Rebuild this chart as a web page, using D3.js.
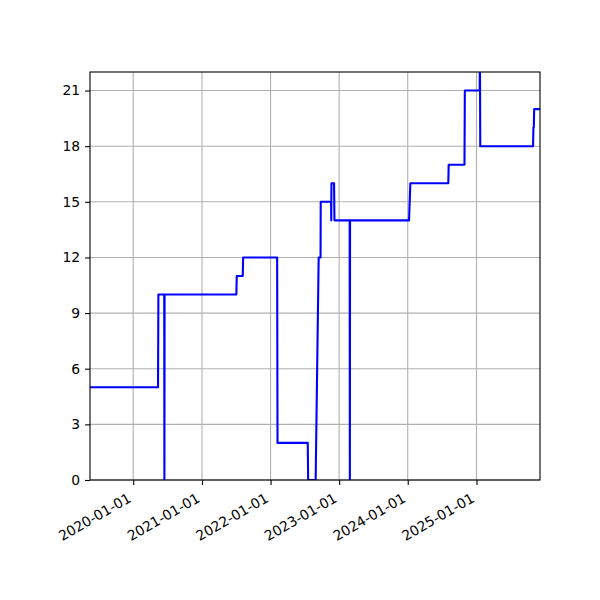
<!DOCTYPE html>
<html>
<head>
<meta charset="utf-8">
<script src="https://cdn.jsdelivr.net/npm/d3@7"></script>
<style>
  body { margin: 0; background: #fff; }
  svg { display: block; }
  text { font-family: "DejaVu Sans", sans-serif; }
</style>
</head>
<body>
<div id="chart"></div>
<script>
"use strict";

// Breakpoints of the series (date, value)
const dates = [
    "2019-05-16", "2020-05-12", "2020-05-14", "2020-06-14", "2020-06-15", "2020-06-16",
    "2021-07-03", "2021-07-05", "2021-08-06", "2021-08-08", "2022-02-05", "2022-02-07",
    "2022-07-18", "2022-07-20", "2022-08-29", "2022-09-14", "2022-09-24", "2022-09-25",
    "2022-11-19", "2022-11-20", "2022-11-21", "2022-12-05", "2022-12-07", "2023-02-26",
    "2023-02-27", "2023-02-28", "2024-01-08", "2024-01-15", "2024-08-04", "2024-08-06",
    "2024-10-29", "2024-10-31", "2025-01-18", "2025-01-19", "2025-01-21", "2025-10-29",
    "2025-10-31", "2025-11-02", "2025-11-04", "2025-12-05"
];
const values = [
    5, 5, 10, 10, 0, 10,
    10, 11, 11, 12, 12, 2,
    2, 0, 0, 12, 12, 15,
    15, 14, 16, 16, 14, 14,
    0, 14, 14, 16, 16, 17,
    17, 21, 21, 24, 18, 18,
    19, 19, 20, 20
];

const xDomain = ["2019-05-16", "2025-12-05"];
const yDomain = [0, 22];
const yTicks = [0, 3, 6, 9, 12, 15, 18, 21];
const xTicks = ["2020-01-01", "2021-01-01", "2022-01-01", "2023-01-01", "2024-01-01", "2025-01-01"];

const width = 600, height = 600;
const margin = { top: 72, right: 60, bottom: 120, left: 90 };
const fontSize = 13.9;
const tickLen = 4.9, tickPad = 4.9;

const parse = d3.utcParse("%Y-%m-%d");
const data = dates.map((d, i) => ({ date: parse(d), value: values[i] }));

const svg = d3.select("#chart").append("svg")
    .attr("width", width)
    .attr("height", height);

const xScale = d3.scaleUtc()
    .domain(xDomain.map(parse))
    .range([margin.left, width - margin.right]);

const yScale = d3.scaleLinear()
    .domain(yDomain)
    .range([height - margin.bottom, margin.top]);

// Grid lines
svg.append("g")
    .attr("stroke", "#b0b0b0")
    .attr("stroke-width", 1.1)
    .call(g => g.selectAll(".vgrid")
        .data(xTicks.map(parse))
        .join("line")
        .attr("x1", d => xScale(d)).attr("x2", d => xScale(d))
        .attr("y1", margin.top).attr("y2", height - margin.bottom))
    .call(g => g.selectAll(".hgrid")
        .data(yTicks)
        .join("line")
        .attr("x1", margin.left).attr("x2", width - margin.right)
        .attr("y1", d => yScale(d)).attr("y2", d => yScale(d)));

// Clip the line to the axes
svg.append("clipPath")
    .attr("id", "plotClip")
    .append("rect")
    .attr("x", margin.left)
    .attr("y", margin.top)
    .attr("width", width - margin.left - margin.right)
    .attr("height", height - margin.top - margin.bottom);

const line = d3.line()
    .x(d => xScale(d.date))
    .y(d => yScale(d.value));

svg.append("path")
    .datum(data)
    .attr("clip-path", "url(#plotClip)")
    .attr("fill", "none")
    .attr("stroke", "#0000ff")
    .attr("stroke-width", 2.1)
    .attr("stroke-linejoin", "round")
    .attr("d", line);

// Y axis
svg.append("g")
    .attr("transform", `translate(${margin.left},0)`)
    .call(d3.axisLeft(yScale).tickValues(yTicks).tickSize(tickLen).tickPadding(tickPad).tickSizeOuter(0))
    .call(g => g.select(".domain").remove())
    .call(g => g.selectAll(".tick line").attr("stroke", "#000").attr("stroke-width", 1.1))
    .call(g => g.selectAll(".tick text")
        .attr("font-family", "DejaVu Sans")
        .attr("font-size", fontSize)
        .attr("fill", "#000"));

// X axis with rotated date labels
const xAxis = svg.append("g")
    .attr("transform", `translate(0,${height - margin.bottom})`)
    .call(d3.axisBottom(xScale).tickValues(xTicks.map(parse)).tickSize(tickLen).tickSizeOuter(0)
        .tickFormat(d3.utcFormat("%Y-%m-%d")))
    .call(g => g.select(".domain").remove())
    .call(g => g.selectAll(".tick line").attr("stroke", "#000").attr("stroke-width", 1.1));

const textH = fontSize * 1.17;
xAxis.selectAll(".tick text")
    .attr("font-family", "DejaVu Sans")
    .attr("font-size", fontSize)
    .attr("fill", "#000")
    .attr("text-anchor", "end")
    .attr("y", 0)
    .attr("dy", 0)
    .attr("transform", `translate(${-textH / 2},${tickLen + tickPad}) rotate(-30) translate(0,${fontSize * 0.93})`);

// Axes frame
svg.append("rect")
    .attr("x", margin.left)
    .attr("y", margin.top)
    .attr("width", width - margin.left - margin.right)
    .attr("height", height - margin.top - margin.bottom)
    .attr("fill", "none")
    .attr("stroke", "#000")
    .attr("stroke-width", 1.1);
</script>
</body>
</html>
